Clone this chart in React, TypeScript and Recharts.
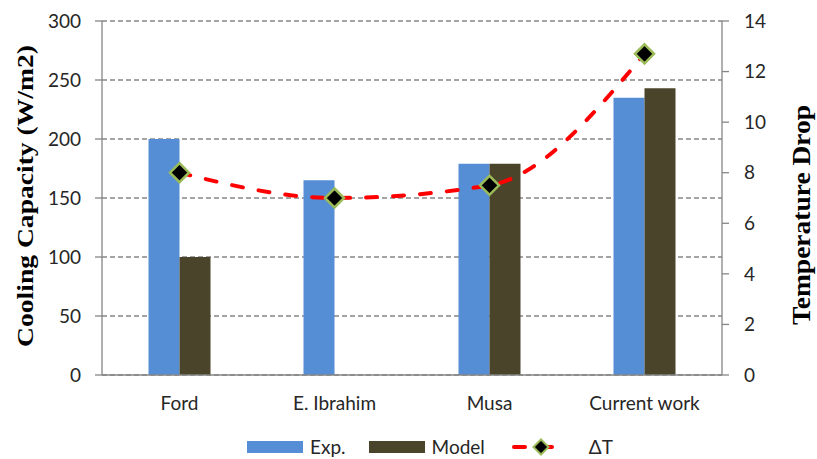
import React from 'react';
import { ComposedChart, Bar, Line, XAxis, YAxis, CartesianGrid } from 'recharts';

const categories = ['Ford', 'E. Ibrahim', 'Musa', 'Current work'];
const expValues = [200, 165, 179, 235];
const modelValues: (number | null)[] = [100, null, 179, 243];
const deltaT = [8, 7, 7.5, 12.7];
const leftTicks = [0, 50, 100, 150, 200, 250, 300];
const rightTicks = [0, 2, 4, 6, 8, 10, 12, 14];
const leftTitle = 'Cooling Capacity (W/m2)';
const rightTitle = 'Temperature Drop';
const seriesNames = ['Exp.', 'Model', 'ΔT'];

const data = categories.map((c, i) => ({
  name: c,
  exp: expValues[i],
  model: modelValues[i],
  dt: deltaT[i],
}));

const BLUE = '#558ED5';
const OLIVE = '#4A452A';
const RED = '#FF0000';
const GRAY = '#868686';
const TEXT = '#262626';
const TICK_FONT = 'Lato, "Open Sans", sans-serif';
const TITLE_FONT = '"Liberation Serif", "DejaVu Serif", serif';

const Diamond = (props: any) => {
  const { cx, cy } = props;
  if (cx == null || cy == null) return null;
  const r = 9.5;
  return (
    <polygon
      key={`d-${cx}`}
      points={`${cx},${cy - r} ${cx + r},${cy} ${cx},${cy + r} ${cx - r},${cy}`}
      fill="#000"
      stroke="#9BBB59"
      strokeWidth={2.5}
    />
  );
};

const AxisTitle = (props: any) => {
  const { viewBox, value, dx, fontSize, stretch, dy = 0 } = props;
  if (!viewBox) return null;
  const x = viewBox.x + dx;
  const y = viewBox.y + viewBox.height / 2 + dy;
  return (
    <text
      transform={`translate(${x},${y}) rotate(-90) scale(${stretch},1)`}
      textAnchor="middle"
      fontFamily={TITLE_FONT}
      fontWeight="bold"
      fontSize={fontSize}
      fill="#000"
    >
      {value}
    </text>
  );
};

export default function App() {
  return (
    <div style={{ position: 'absolute', left: 0, top: 0, width: 817, height: 459, background: '#fff' }}>
      <ComposedChart
        width={817}
        height={459}
        data={data}
        margin={{ top: 21, right: 0, bottom: 54, left: 0 }}
        barCategoryGap="30%"
        barGap={0}
      >
        <CartesianGrid
          yAxisId="left"
          vertical={false}
          stroke={GRAY}
          strokeWidth={1.3}
          strokeDasharray="5 3"
        />
        <XAxis
          dataKey="name"
          height={30}
          tickLine={false}
          tickSize={0}
          tickMargin={22}
          axisLine={{ stroke: GRAY, strokeWidth: 1.3 }}
          tick={{ fill: TEXT, fontSize: 19, fontFamily: TICK_FONT }}
          interval={0}
        />
        <YAxis
          yAxisId="left"
          width={102}
          domain={[0, 300]}
          ticks={leftTicks}
          interval={0}
          tickSize={7}
          tickMargin={14}
          axisLine={{ stroke: GRAY, strokeWidth: 1.3 }}
          tickLine={{ stroke: GRAY, strokeWidth: 1.3 }}
          tick={{ fill: TEXT, fontSize: 19, fontFamily: TICK_FONT }}
          label={<AxisTitle value={leftTitle} dx={33} dy={-2} fontSize={23} stretch={1.2} />}
        />
        <YAxis
          yAxisId="right"
          orientation="right"
          width={95}
          domain={[0, 14]}
          ticks={rightTicks}
          interval={0}
          tickSize={7}
          tickMargin={15}
          axisLine={{ stroke: GRAY, strokeWidth: 1.3 }}
          tickLine={{ stroke: GRAY, strokeWidth: 1.3 }}
          tick={{ fill: TEXT, fontSize: 19, fontFamily: TICK_FONT }}
          label={<AxisTitle value={rightTitle} dx={88} dy={17} fontSize={25} stretch={1.1} />}
        />
        <Bar yAxisId="left" dataKey="exp" name={seriesNames[0]} fill={BLUE} isAnimationActive={false} />
        <Bar yAxisId="left" dataKey="model" name={seriesNames[1]} fill={OLIVE} isAnimationActive={false} />
        <Line
          yAxisId="right"
          dataKey="dt"
          name={seriesNames[2]}
          type="monotone"
          stroke={RED}
          strokeWidth={4}
          strokeLinecap="round"
          strokeDasharray="11 16"
          dot={<Diamond />}
          activeDot={false}
          isAnimationActive={false}
        />
      </ComposedChart>
      <div
        style={{
          position: 'absolute',
          top: 437,
          left: 247,
          display: 'flex',
          alignItems: 'center',
          fontFamily: TICK_FONT,
          fontSize: 19,
          color: TEXT,
          lineHeight: '20px',
        }}
      >
        <div style={{ width: 56, height: 12, background: BLUE }} />
        <span style={{ marginLeft: 7, marginRight: 23 }}>{seriesNames[0]}</span>
        <div style={{ width: 56, height: 12, background: OLIVE }} />
        <span style={{ marginLeft: 7, marginRight: 26 }}>{seriesNames[1]}</span>
        <svg width={60} height={20}>
          <line x1={3} y1={10} x2={57} y2={10} stroke={RED} strokeWidth={4} strokeLinecap="round" strokeDasharray="11 16" />
          <polygon points="30,2.5 37.5,10 30,17.5 22.5,10" fill="#000" stroke="#9BBB59" strokeWidth={2} />
        </svg>
        <span style={{ marginLeft: 18 }}>{seriesNames[2]}</span>
      </div>
    </div>
  );
}
